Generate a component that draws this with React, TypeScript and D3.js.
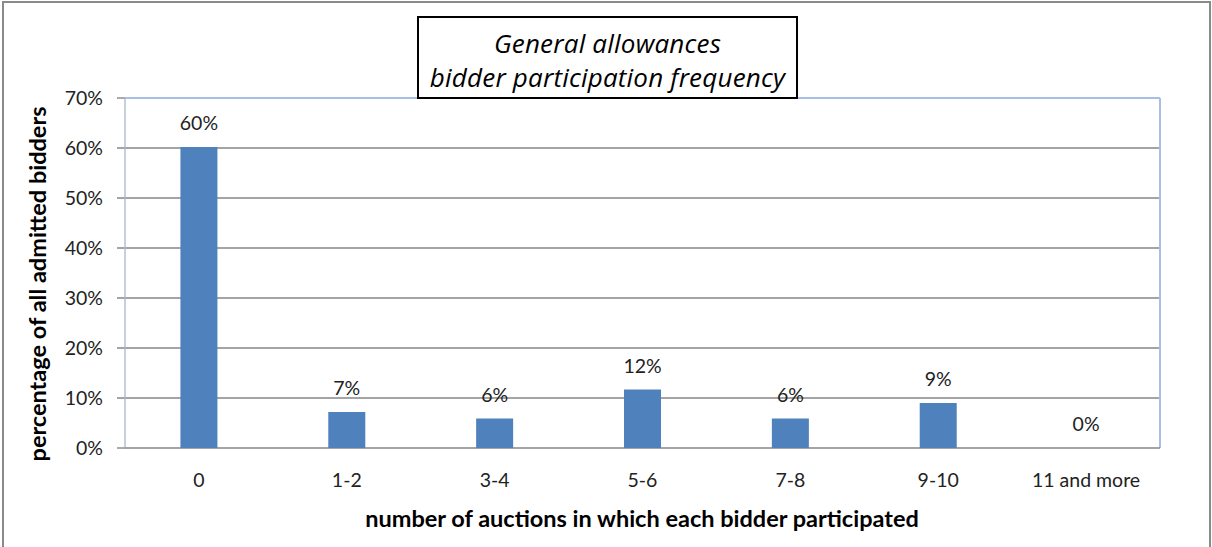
import React from "react";
import * as d3 from "d3";

const categories = ["0", "1-2", "3-4", "5-6", "7-8", "9-10", "11 and more"];
const values = [0.602, 0.072, 0.059, 0.117, 0.059, 0.09, 0.0];
const valueLabels = ["60%", "7%", "6%", "12%", "6%", "9%", "0%"];
const yTicks = [0, 0.1, 0.2, 0.3, 0.4, 0.5, 0.6, 0.7];
const titleLines = ["General allowances", "bidder participation frequency"];
const xTitle = "number of auctions in which each bidder participated";
const yTitle = "percentage of all admitted bidders";

const W = 1212;
const H = 547;
const FONT = "Lato, 'Open Sans', sans-serif";
const TFONT = "'Open Sans', Lato, sans-serif";

export default function App() {
  const left = 125, right = 1160, top = 98, bottom = 448;
  const x = d3.scaleBand<string>().domain(categories).range([left, right]).paddingInner(0).paddingOuter(0);
  const y = d3.scaleLinear().domain([0, 0.7]).range([bottom, top]);
  const barW = 37;
  const fmt = d3.format(".0%");

  return (
    <svg width={W} height={H} style={{ position: "absolute", left: 0, top: 0, display: "block" }}>
      <rect x={0} y={0} width={W} height={H} fill="#fff" />
      <rect x={3} y={2} width={1207} height={560} fill="#fff" stroke="#8a8a8a" strokeWidth={2} />
      {yTicks.map((t) => (
        <g key={t}>
          {t > 0 && t < 0.7 && (
            <line x1={117} x2={right} y1={y(t)} y2={y(t)} stroke="#868686" strokeWidth={1.4} />
          )}
          {(t === 0 || t === 0.7) && (
            <line x1={117} x2={left} y1={y(t)} y2={y(t)} stroke="#868686" strokeWidth={1.4} />
          )}
          <text x={103} y={y(t)} dy="0.36em" textAnchor="end" fontFamily={FONT} fontSize={19.5} fill="#222">
            {fmt(t)}
          </text>
        </g>
      ))}
      <line x1={left} x2={right} y1={top} y2={top} stroke="#a7bfe6" strokeWidth={2} />
      <line x1={right} x2={right} y1={top} y2={bottom} stroke="#a7bfe6" strokeWidth={2} />
      <line x1={left} x2={left} y1={top} y2={bottom} stroke="#a9b6cc" strokeWidth={1.3} />
      <line x1={left} x2={right} y1={bottom} y2={bottom} stroke="#868686" strokeWidth={1.4} />
      {categories.map((c, i) => {
        const cx = (x(c) as number) + x.bandwidth() / 2;
        return (
          <g key={c}>
            {values[i] > 0 && (
              <rect x={cx - barW / 2} y={y(values[i])} width={barW} height={bottom - y(values[i])} fill="#4f81bd" />
            )}
            <text x={cx} y={y(values[i]) - 17} textAnchor="middle" fontFamily={FONT} fontSize={19.5} fill="#222">
              {valueLabels[i]}
            </text>
            <text x={cx} y={487} textAnchor="middle" fontFamily={FONT} fontSize={19.5} fill="#222">
              {c}
            </text>
          </g>
        );
      })}
      <rect x={418} y={17} width={379} height={81} fill="#fff" stroke="#000" strokeWidth={2} />
      {titleLines.map((l, i) => (
        <text key={l} x={607.5} y={53 + i * 34} textAnchor="middle" fontFamily={TFONT} fontStyle="italic" fontSize={26} letterSpacing={0.2} fill="#000">
          {l}
        </text>
      ))}
      <text x={642} y={527} textAnchor="middle" fontFamily={FONT} fontWeight="bold" fontSize={23.5} fill="#000">
        {xTitle}
      </text>
      <text transform={`translate(46,284) rotate(-90)`} textAnchor="middle" fontFamily={FONT} fontWeight="bold" fontSize={23.5} fill="#000">
        {yTitle}
      </text>
    </svg>
  );
}
